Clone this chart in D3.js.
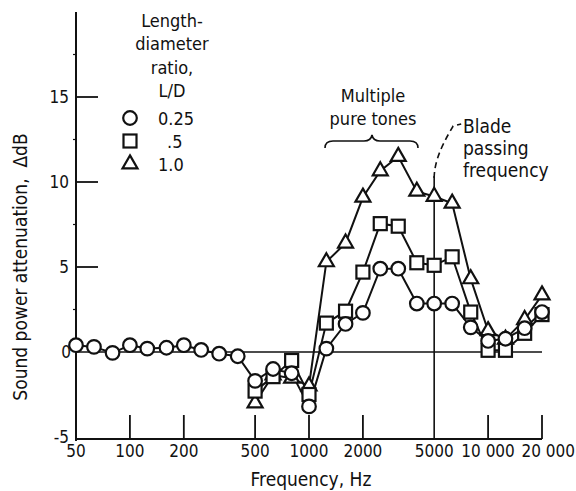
<!DOCTYPE html>
<html>
<head>
<meta charset="utf-8">
<script src="https://cdn.jsdelivr.net/npm/d3@7"></script>
<style>
  html, body { margin: 0; padding: 0; background: #fff; }
  svg text { font-family: 'DejaVu Sans Condensed', 'DejaVu Sans', sans-serif; font-stretch: condensed; fill: #111; }
</style>
</head>
<body>
<svg id="chart" width="576" height="491"></svg>
<script>
// ---- data ----
const freqs = [50, 63, 80, 100, 125, 160, 200, 250, 315, 400, 500, 630, 800, 1000, 1250, 1600, 2000, 2500, 3150, 4000, 5000, 6300, 8000, 10000, 12500, 16000, 20000];
const ld025 = [0.4, 0.3, -0.05, 0.4, 0.2, 0.25, 0.4, 0.12, -0.1, -0.25, -1.7, -1.0, -1.25, -3.2, 0.2, 1.65, 2.3, 4.9, 4.9, 2.85, 2.85, 2.85, 1.45, 0.65, 0.78, 1.4, 2.35];
const freqsHigh = [500, 630, 800, 1000, 1250, 1600, 2000, 2500, 3150, 4000, 5000, 6300, 8000, 10000, 12500, 16000, 20000];
const ld05 = [-2.3, -1.45, -0.5, -2.5, 1.7, 2.4, 4.7, 7.55, 7.4, 5.25, 5.1, 5.6, 2.35, 0.1, 0.1, 1.1, 2.2];
const ld10 = [-3.0, -1.35, -1.55, -2.0, 5.3, 6.4, 9.1, 10.65, 11.5, 9.45, 9.15, 8.75, 4.3, 1.25, 0.75, 1.9, 3.35];
const xTickValues = [50, 100, 200, 500, 1000, 2000, 5000, 10000, 20000];
const xTickLabels = ["50", "100", "200", "500", "1000", "2000", "5000", "10 000", "20 000"];
const yTickValues = [-5, 0, 5, 10, 15];
const legendTitle = ["Length-", "diameter", "ratio,", "L/D"];
const legendLabels = ["0.25", ".5", "1.0"];
const bladeFreq = 5000;

const svg = d3.select("#chart");
const x = d3.scaleLog().domain([50, 20000]).range([76, 542]);
const y = d3.scaleLinear().domain([-5, 20]).range([437, 12]);

const ink = "#111";
const g = svg.append("g");

// axes frame
g.append("line").attr("x1", x(50)).attr("x2", x(50)).attr("y1", y(20)).attr("y2", y(-5) + 4)
  .attr("stroke", ink).attr("stroke-width", 2);
g.append("line").attr("x1", x(50)).attr("x2", x(20000)).attr("y1", y(-5) + 2).attr("y2", y(-5) + 2)
  .attr("stroke", ink).attr("stroke-width", 1.8);
// zero line
g.append("line").attr("x1", x(50)).attr("x2", x(20000)).attr("y1", y(0)).attr("y2", y(0))
  .attr("stroke", ink).attr("stroke-width", 1.6);

// y ticks (inward)
g.selectAll(".yt").data(yTickValues.filter(v => v > 0)).enter().append("line")
  .attr("x1", x(50)).attr("x2", x(50) + 22).attr("y1", d => y(d)).attr("y2", d => y(d))
  .attr("stroke", ink).attr("stroke-width", 1.8);
g.selectAll(".ytm").data([2.5, 7.5, 12.5, 17.5]).enter().append("line")
  .attr("x1", x(50) - 3).attr("x2", x(50)).attr("y1", d => y(d)).attr("y2", d => y(d))
  .attr("stroke", ink).attr("stroke-width", 1.2);
g.selectAll(".ytl").data(yTickValues).enter().append("text")
  .attr("x", d => d === 0 ? 71 : 69).attr("y", d => y(d)).attr("text-anchor", "end")
  .attr("dominant-baseline", "central").attr("font-size", 17)
  .text(d => d < 0 ? "-" + Math.abs(d) : d);

// x ticks (upward)
g.selectAll(".xt").data(xTickValues.filter(v => v !== 50 && v !== bladeFreq)).enter().append("line")
  .attr("x1", d => x(d)).attr("x2", d => x(d)).attr("y1", y(-5) + 2).attr("y2", y(-5) - 22)
  .attr("stroke", ink).attr("stroke-width", 1.8);
g.selectAll(".xtl").data(xTickValues).enter().append("text")
  .attr("x", d => d === 20000 ? 575 : x(d))
  .attr("y", 451)
  .attr("text-anchor", d => d === 20000 ? "end" : "middle")
  .attr("dominant-baseline", "central").attr("font-size", 17)
  .text((d, i) => xTickLabels[i]);

// blade passing frequency line
g.append("line").attr("x1", x(bladeFreq)).attr("x2", x(bladeFreq)).attr("y1", 176).attr("y2", y(-5) + 2)
  .attr("stroke", ink).attr("stroke-width", 1.6);
g.append("path")
  .attr("d", `M${x(bladeFreq)},178 C${x(bladeFreq)},158 ${x(bladeFreq) + 12},138 ${x(bladeFreq) + 19},126 L${x(bladeFreq) + 27},124`)
  .attr("fill", "none").attr("stroke", ink).attr("stroke-width", 1.6).attr("stroke-dasharray", "6,4");
g.selectAll(".blade").data(["Blade", "passing", "frequency"]).enter().append("text")
  .attr("x", 463).attr("y", (d, i) => 126 + i * 22).attr("dominant-baseline", "central")
  .attr("font-size", 19).text(d => d);

// multiple pure tones
g.selectAll(".mpt").data(["Multiple", "pure tones"]).enter().append("text")
  .attr("x", 373).attr("y", (d, i) => 95 + i * 23).attr("text-anchor", "middle")
  .attr("dominant-baseline", "central").attr("font-size", 18).text(d => d);
g.append("path")
  .attr("d", "M325,148 Q325,141 333,141 L364,141 Q371,141 372,135 Q373,141 380,141 L410,141 Q418,141 418,148")
  .attr("fill", "none").attr("stroke", ink).attr("stroke-width", 1.6);

// series lines
const line = d3.line().x(d => x(d[0])).y(d => y(d[1]));
const s025 = freqs.map((f, i) => [f, ld025[i]]);
const s05 = freqsHigh.map((f, i) => [f, ld05[i]]);
const s10 = freqsHigh.map((f, i) => [f, ld10[i]]);
[s10, s05, s025].forEach(s => {
  g.append("path").datum(s).attr("d", line).attr("fill", "none").attr("stroke", ink).attr("stroke-width", 2);
});

// markers
const sw = 2.2;
function circ(sel, cx, cy) {
  sel.append("circle").attr("cx", cx).attr("cy", cy).attr("r", 6.8)
    .attr("fill", "#fff").attr("stroke", ink).attr("stroke-width", sw);
}
function sq(sel, cx, cy) {
  sel.append("rect").attr("x", cx - 6.5).attr("y", cy - 6.5).attr("width", 13).attr("height", 13)
    .attr("fill", "#fff").attr("stroke", ink).attr("stroke-width", sw);
}
function tri(sel, cx, cy) {
  const s = 15, h = s * Math.sqrt(3) / 2;
  sel.append("path").attr("d", `M${cx},${cy - 2 * h / 3} L${cx + s / 2},${cy + h / 3} L${cx - s / 2},${cy + h / 3} Z`)
    .attr("fill", "#fff").attr("stroke", ink).attr("stroke-width", sw).attr("stroke-linejoin", "miter");
}
s10.forEach(d => tri(g, x(d[0]), y(d[1])));
s05.forEach(d => sq(g, x(d[0]), y(d[1])));
s025.forEach(d => circ(g, x(d[0]), y(d[1])));

// legend
g.selectAll(".lt").data(legendTitle).enter().append("text")
  .attr("x", 172).attr("y", (d, i) => 20 + i * 23.5).attr("text-anchor", "middle")
  .attr("dominant-baseline", "central").attr("font-size", 18).text(d => d);
circ(g, 130, 118);
sq(g, 130, 141);
tri(g, 130, 164);
g.selectAll(".ll").data(legendLabels).enter().append("text")
  .attr("x", (d, i) => i === 1 ? 167 : 158).attr("y", (d, i) => 118 + i * 23)
  .attr("dominant-baseline", "central").attr("font-size", 18).text(d => d);

// axis titles
svg.append("text").attr("x", 311).attr("y", 479).attr("text-anchor", "middle")
  .attr("dominant-baseline", "central").attr("font-size", 19).text("Frequency, Hz");
svg.append("text").attr("transform", "translate(20,267) rotate(-90)").attr("text-anchor", "middle")
  .attr("dominant-baseline", "central").attr("font-size", 19).text("Sound power attenuation,\u00a0 \u0394dB");
</script>
</body>
</html>
